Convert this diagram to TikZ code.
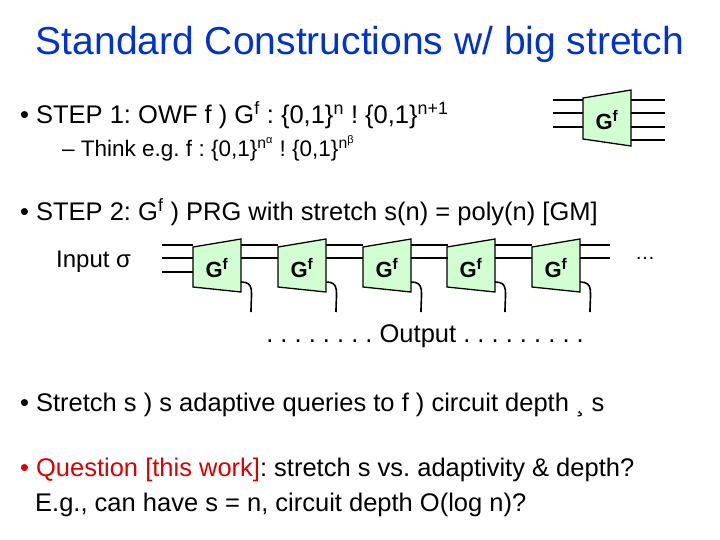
\documentclass[tikz,border=0pt]{standalone}
\usepackage{fontspec}
\setmainfont{Liberation Sans}
\frenchspacing
\begin{document}
\begin{tikzpicture}[x=1pt,y=-1pt,
  gbox/.style={draw,line width=1.3pt,fill=green!18},
  wire/.style={line width=1.6pt},
  txt/.style={anchor=west,inner sep=0pt,font=\fontsize{25.5}{30}\selectfont}]
\useasboundingbox (0,0) rectangle (720,540);
\node[inner sep=0pt,font=\fontsize{39}{44}\selectfont,text=blue!75!cyan!80!black] (title) at (360,44) {Standard Constructions w/ big stretch};
\node[txt] (s1) at (20,115) {•\hspace{7pt}STEP 1: OWF f ) G\textsuperscript{f} : \{0,1\}\textsuperscript{n} ! \{0,1\}\textsuperscript{n+1}};
\node[txt,font=\fontsize{22.5}{27}\selectfont] (s1b) at (62,148) {– Think e.g. f : \{0,1\}\textsuperscript{n\textsuperscript{α}} ! \{0,1\}\textsuperscript{n\textsuperscript{β}}};
% top-right Gf
\foreach \y in {100,113,127} \draw[wire] (553,\y) -- (583,\y);
\foreach \y in {100,113,127,140} \draw[wire] (631,\y) -- (665,\y);
\draw[gbox] (583,98) -- (631,90) -- (631,146) -- (583,139) -- cycle;
\node[font=\bfseries\fontsize{22}{26}\selectfont] (gtop) at (607,120) {G\textsuperscript{f}};
\node[txt] (s2) at (20,212) {•\hspace{7pt}STEP 2: G\textsuperscript{f} ) PRG with stretch s(n) = poly(n) [GM]};
\node[txt,font=\fontsize{24}{28}\selectfont] (inp) at (56,262) {Input σ};
\foreach \y in {245,258,272} \draw[wire] (162,\y) -- (193,\y);
\foreach \i/\cx in {1/217,2/302,3/387,4/471,5/556} {
  \draw[gbox] (\cx-24,247) -- (\cx+24,239) -- (\cx+24,292) -- (\cx-24,287) -- cycle;
  \node[font=\bfseries\fontsize{22}{26}\selectfont] (g\i) at (\cx,268) {G\textsuperscript{f}};
  \draw[wire] (\cx+24,282) .. controls (\cx+38,282) and (\cx+34,292) .. (\cx+34,312);
}
\foreach \cx in {217,302,387,471} \foreach \y in {245,258} \draw[wire] (\cx+24,\y) -- (\cx+61,\y);
\foreach \y in {245,258} \draw[wire] (580,\y) -- (610,\y);
\node[inner sep=0pt,font=\fontsize{20}{24}\selectfont] (dots) at (645,258) {…};
\node[inner sep=0pt,font=\fontsize{25.5}{30}\selectfont] (out) at (425,336) {. . . . . . . . Output . . . . . . . . .};
\node[txt] (s3) at (20,405) {•\hspace{7pt}Stretch s ) s adaptive queries to f ) circuit depth ¸ s};
\node[txt,text=red!85!black] (s4) at (20,470) {•\hspace{7pt}Question [this work]\textcolor{black}{: stretch s vs. adaptivity \& depth?}};
\node[txt] (s5) at (35,505) {E.g., can have s = n, circuit depth O(log n)?};
\end{tikzpicture}
\end{document}
